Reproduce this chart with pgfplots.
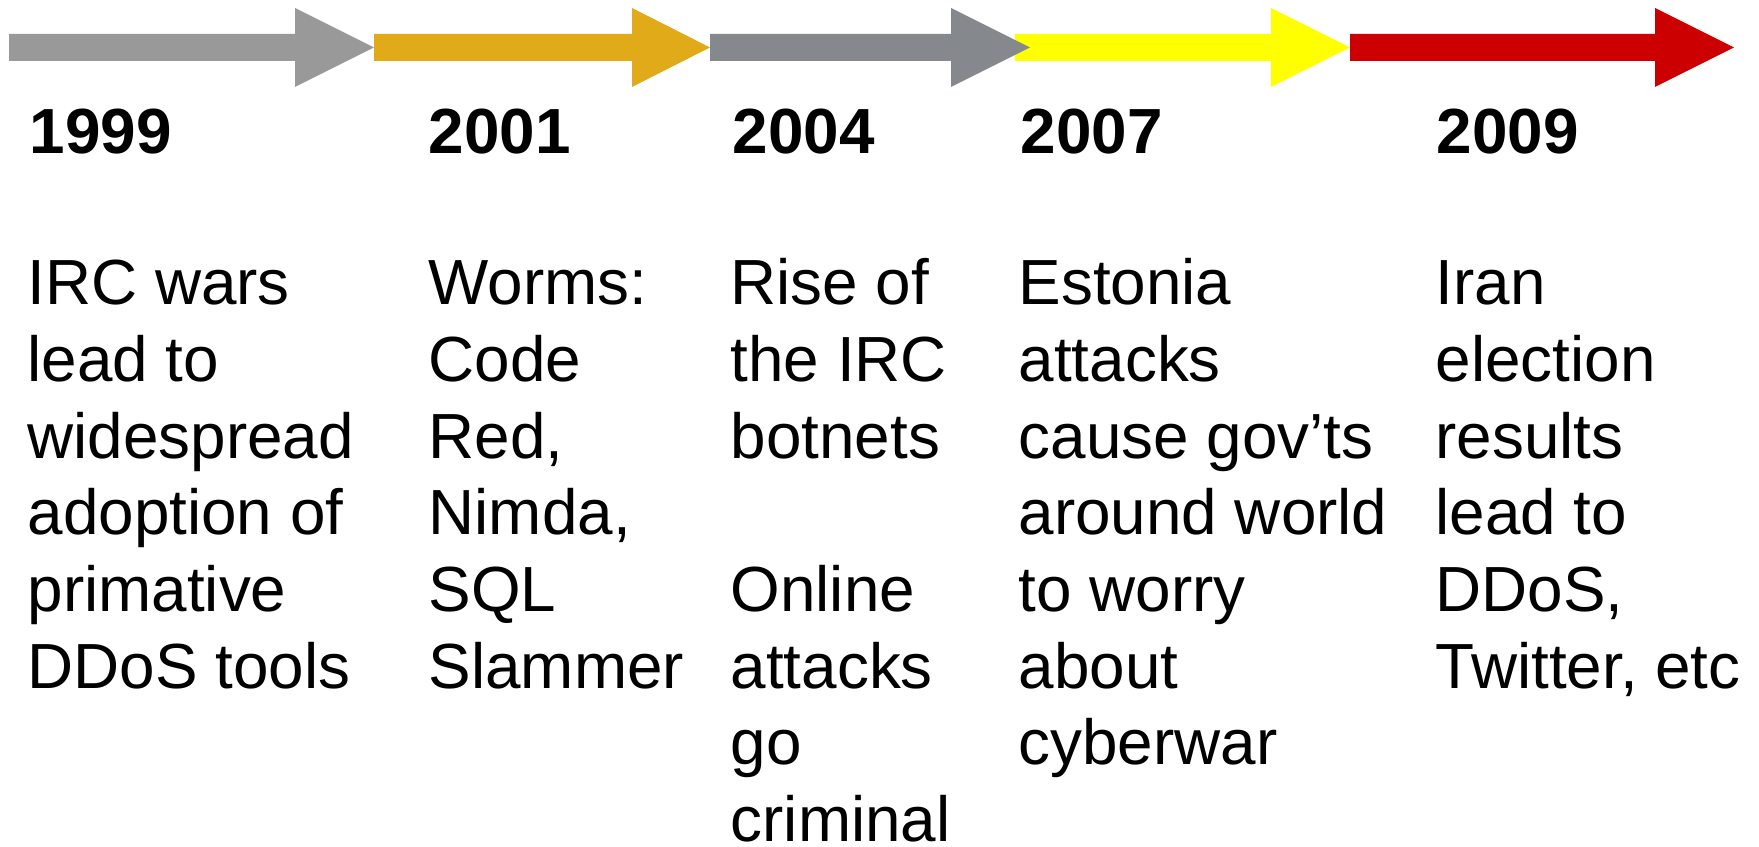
\documentclass[border=0pt]{standalone}
\usepackage{pgfplots}
\pgfplotsset{compat=1.18}
\usepackage{fontspec}
\setmainfont{Liberation Sans}
\definecolor{ArrGrayA}{HTML}{999999}
\definecolor{ArrGold}{HTML}{E0AA18}
\definecolor{ArrGrayB}{HTML}{85888C}
\definecolor{ArrYellow}{HTML}{FFFF00}
\definecolor{ArrRed}{HTML}{CC0000}

% one line of body text: x, line index, text
\newcommand{\tl}[3]{\node[anchor=base west, inner sep=0pt, font=\fontsize{18.15pt}{21.8pt}\selectfont] at (axis cs:#1,{541-76.6*#2}) {#3};}
\newcommand{\yr}[2]{\node[anchor=base west, inner sep=0pt, font=\fontsize{18.15pt}{21.8pt}\selectfont\bfseries] at (axis cs:#1,692) {#2};}

\begin{document}
\begin{tikzpicture}
\begin{axis}[
  hide axis, scale only axis,
  width=175.9mm, height=84.6mm,
  xmin=0, xmax=1759, ymin=0, ymax=846,
  clip=false,
]
\path (axis cs:0,0) rectangle (axis cs:1759,846);

% arrows (shaft 785-812, head 759-838, pointing right)
\addplot[fill=ArrGrayA, draw=none] coordinates {
  (9,785) (295,785) (295,759) (374,798.5) (295,838) (295,812) (9,812)} -- cycle;
\addplot[fill=ArrGold, draw=none] coordinates {
  (374,785) (632,785) (632,759) (710,798.5) (632,838) (632,812) (374,812)} -- cycle;
\addplot[fill=ArrYellow, draw=none] coordinates {
  (1015,785) (1271,785) (1271,759) (1350,798.5) (1271,838) (1271,812) (1015,812)} -- cycle;
\addplot[fill=ArrGrayB, draw=none] coordinates {
  (710,785) (951,785) (951,759) (1030,798.5) (951,838) (951,812) (710,812)} -- cycle;
\addplot[fill=ArrRed, draw=none] coordinates {
  (1350,785) (1655,785) (1655,759) (1734,798.5) (1655,838) (1655,812) (1350,812)} -- cycle;

% years
\yr{29}{1999}
\yr{428}{2001}
\yr{732}{2004}
\yr{1020}{2007}
\yr{1436}{2009}

% 1999
\tl{27}{0}{IRC wars}
\tl{27}{1}{lead to}
\tl{27}{2}{widespread}
\tl{27}{3}{adoption of}
\tl{27}{4}{primative}
\tl{27}{5}{DDoS tools}
% 2001
\tl{428}{0}{Worms:}
\tl{428}{1}{Code}
\tl{428}{2}{Red,}
\tl{428}{3}{Nimda,}
\tl{428}{4}{SQL}
\tl{428}{5}{Slammer}
% 2004
\tl{730}{0}{Rise of}
\tl{730}{1}{the IRC}
\tl{730}{2}{botnets}
\tl{730}{4}{Online}
\tl{730}{5}{attacks}
\tl{730}{6}{go}
\tl{730}{7}{criminal}
% 2007
\tl{1018}{0}{Estonia}
\tl{1018}{1}{attacks}
\tl{1018}{2}{cause gov’ts}
\tl{1018}{3}{around world}
\tl{1018}{4}{to worry}
\tl{1018}{5}{about}
\tl{1018}{6}{cyberwar}
% 2009
\tl{1435}{0}{Iran}
\tl{1435}{1}{election}
\tl{1435}{2}{results}
\tl{1435}{3}{lead to}
\tl{1435}{4}{DDoS,}
\tl{1435}{5}{Twitter, etc}
\end{axis}
\end{tikzpicture}
\end{document}
